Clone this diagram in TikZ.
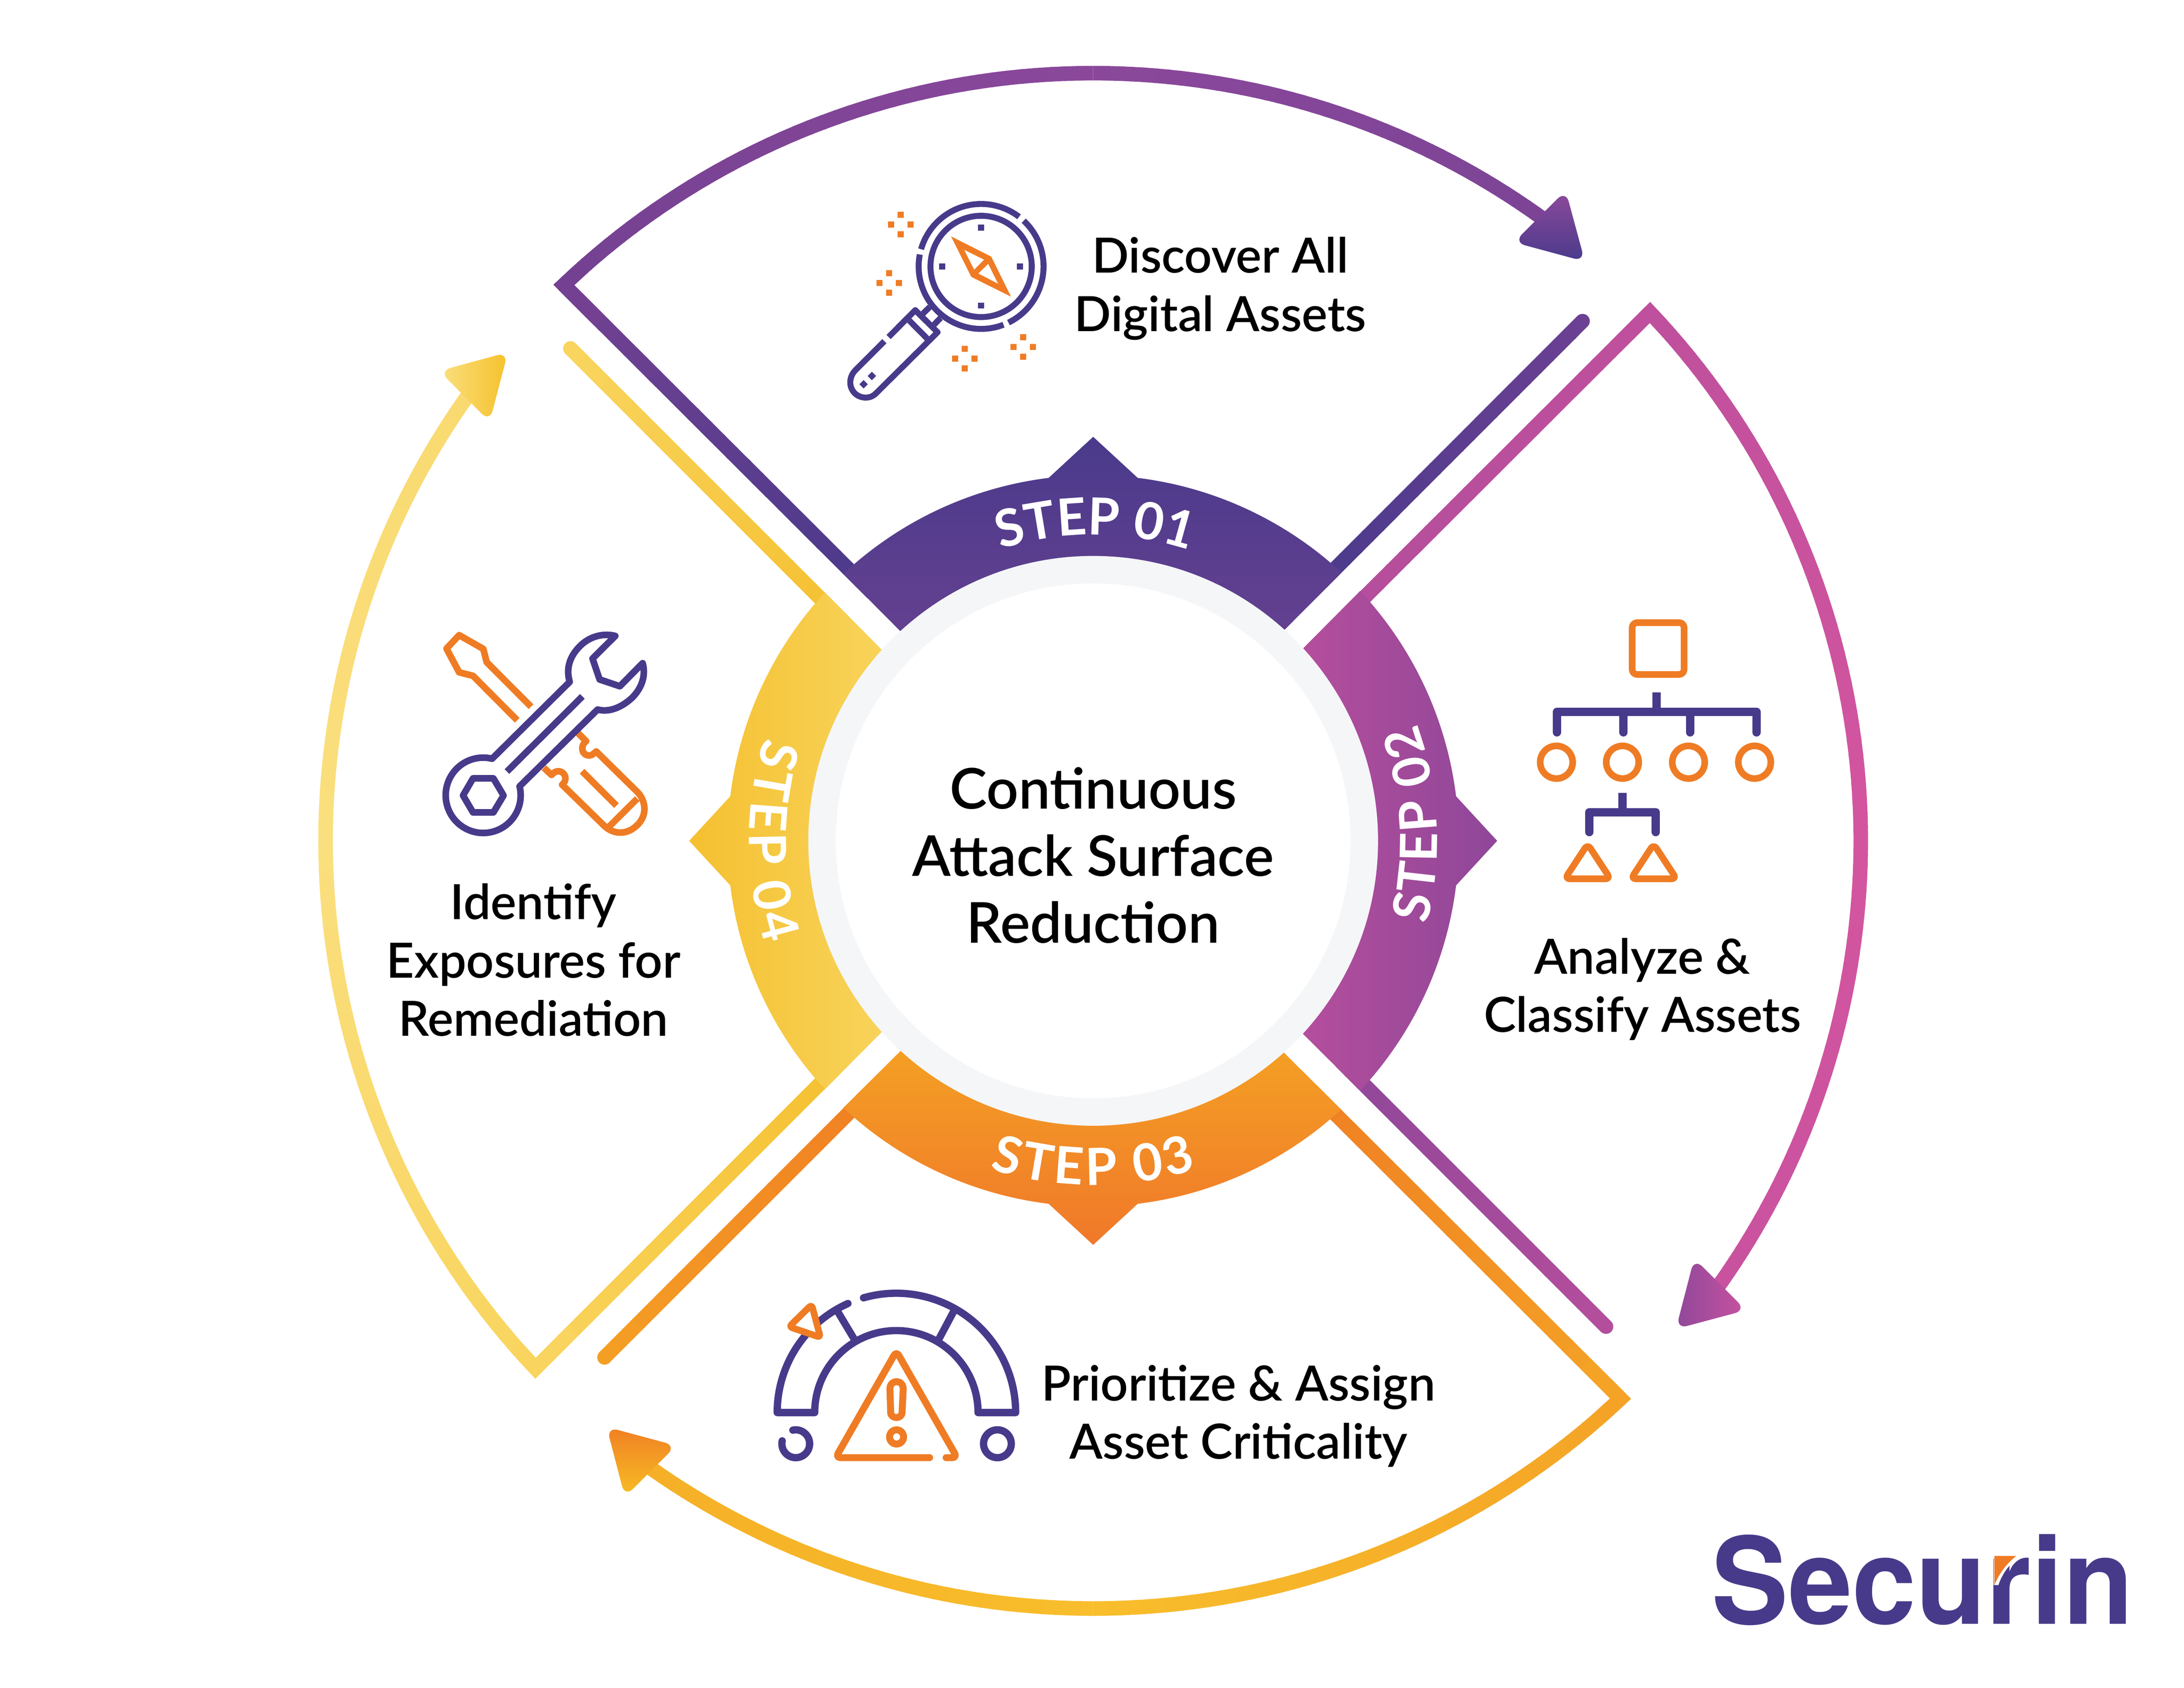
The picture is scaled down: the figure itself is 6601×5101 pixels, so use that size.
\documentclass[tikz,border=0pt]{standalone}
\usepackage{fontspec}
\usetikzlibrary{calc,decorations.text}
\setmainfont{Lato}
\newfontfamily\lblfont{Lato Semibold}
\newfontfamily\stepfont{Lato Bold}
\newfontfamily\logofont{TeX Gyre Heros Bold}
\definecolor{lv}{HTML}{483A8A}
\definecolor{og}{HTML}{EF7C24}
\definecolor{ringgray}{HTML}{F4F6F8}
% top sector
\definecolor{tA}{HTML}{744192}\definecolor{tB}{HTML}{8B489B}\definecolor{tC}{HTML}{7C4496}
\definecolor{tD}{HTML}{6C4093}\definecolor{tE}{HTML}{4A3A8B}\definecolor{tF}{HTML}{644090}\definecolor{tG}{HTML}{8E4A9B}
% right sector
\definecolor{rA}{HTML}{BF509D}\definecolor{rB}{HTML}{D4559F}\definecolor{rC}{HTML}{C8529F}
\definecolor{rD}{HTML}{B44E9C}\definecolor{rE}{HTML}{8F4799}\definecolor{rF}{HTML}{90489A}
% bottom sector
\definecolor{bA}{HTML}{F4A326}\definecolor{bB}{HTML}{F8BE2C}\definecolor{bC}{HTML}{F5AF27}
\definecolor{bD}{HTML}{F07F23}\definecolor{bE}{HTML}{F49F24}\definecolor{bF}{HTML}{F7BF25}\definecolor{bG}{HTML}{F0782A}
% left sector
\definecolor{lA}{HTML}{F9D55F}\definecolor{lB}{HTML}{FADF7E}\definecolor{lC}{HTML}{F9DA70}
\definecolor{lD}{HTML}{F5C030}\definecolor{lE}{HTML}{F8D35A}\definecolor{lF}{HTML}{F9E07F}\definecolor{lG}{HTML}{F6C12C}
\tikzset{
 iconP/.style={draw=lv,line join=round},
 iconO/.style={draw=og,line join=round},
 lbl/.style={align=center,inner sep=0pt,text=black,font=\lblfont\fontsize{14.65}{17.6}\selectfont},
 midlbl/.style={align=center,inner sep=0pt,text=black,font=\lblfont\fontsize{17}{20.3}\selectfont},
 sweep/.style={line width=4.4pt,miter limit=20},
}
\newcommand\gradarc[4]{%
 \foreach \i in {1,...,40}{%
  \pgfmathsetmacro\aa{#1+(#2-#1)*(\i-1)/40}%
  \pgfmathsetmacro\ab{#1+(#2-#1)*min((\i+0.2)/40,1)}%
  \pgfmathsetmacro\mm{100-100*(\i-0.5)/40}%
  \draw[draw={#3!\mm!#4},line width=4.4pt] (\aa:2320) arc (\aa:\ab:2320);
 }}
\newcommand\gradline[4]{%
 \foreach \i in {1,...,24}{%
  \pgfmathsetmacro\ta{(\i-1)/24}%
  \pgfmathsetmacro\tb{min((\i+0.15)/24,1)}%
  \pgfmathsetmacro\mm{100-100*(\i-0.5)/24}%
  \draw[draw={#3!\mm!#4},line width=4.4pt] ($(#1)!\ta!(#2)$) -- ($(#1)!\tb!(#2)$);
 }}
\newcommand\roundtri[7]{%
 \pgfmathsetmacro\gx{#1/3+#3/3+#5/3}%
 \pgfmathsetmacro\gy{#2/3+#4/3+#6/3}%
 \pgfmathsetmacro\ax{\gx+1.45*(#1-\gx)}\pgfmathsetmacro\ay{\gy+1.45*(#2-\gy)}%
 \pgfmathsetmacro\bx{\gx+1.45*(#3-\gx)}\pgfmathsetmacro\by{\gy+1.45*(#4-\gy)}%
 \pgfmathsetmacro\cx{\gx+1.45*(#5-\gx)}\pgfmathsetmacro\cy{\gy+1.45*(#6-\gy)}%
 \shade[#7,rounded corners=3.46pt] (\ax,\ay) -- (\bx,\by) -- (\cx,\cy) -- cycle;
}
\newcommand\sqr[2]{\fill (#1-18,#2-18) rectangle (#1+18,#2+18);}
\newcommand\sparkle[2]{\fill[og] (#1-18,#2-76) rectangle (#1+18,#2-40) (#1-75,#2-18) rectangle (#1-39,#2+18) (#1+40,#2-18) rectangle (#1+76,#2+18) (#1-18,#2+40) rectangle (#1+18,#2+76);}
\begin{document}
\begin{tikzpicture}[x=0.1pt,y=0.1pt]
\useasboundingbox (0,0) rectangle (6601,-5101);
\fill[white] (0,0) rectangle (6601,-5101);
\begin{scope}[yscale=-1]
\coordinate (ctr) at (3304,2541);
% arm free ends and inner ends
\coordinate (capT) at (4783,970.5);  \coordinate (inTR) at (3965.5,1788.5);
\coordinate (inTL) at (2638,1793);
\coordinate (inRU) at (4053,1876);   \coordinate (inRL) at (4052,3207);
\coordinate (capR) at (4854,4009);
\coordinate (inBR) at (3964,3295);   \coordinate (inBL) at (2639,3290);
\coordinate (capB) at (1827,4102);
\coordinate (inLL) at (2551,3202);   \coordinate (inLU) at (2551,1880);
\coordinate (capL) at (1724,1053);
\coordinate (cTL) at ($(ctr)+(-133.6:2320)$);
\coordinate (cR)  at ($(ctr)+(-43.5:2320)$);
\coordinate (cB)  at ($(ctr)+(46.6:2320)$);
\coordinate (cL)  at ($(ctr)+(136.6:2320)$);
% ---- top sector
\begin{scope}[shift={(ctr)}]
 \gradarc{-133.6}{-90}{tA}{tB}
 \gradarc{-90}{-53}{tB}{tC}
\end{scope}
\gradline{cTL}{inTL}{tA}{tE}
\gradline{capT}{inTR}{tD}{tE}
\fill[tD] (capT) circle (22);
\draw[tA,sweep] ($(cTL)!15pt!(inTL)$) -- (cTL) -- ($(ctr)+(-131.6:2320)$);
\roundtri{4722}{614}{4614}{722}{4762}{762}{top color=tG,bottom color=tE}
% ---- right sector
\begin{scope}[shift={(ctr)}]
 \gradarc{-43.5}{0}{rA}{rB}
 \gradarc{0}{36.8}{rB}{rC}
\end{scope}
\gradline{cR}{inRU}{rA}{rD}
\gradline{capR}{inRL}{rD}{rE}
\fill[rD] (capR) circle (22);
\draw[rA,sweep] ($(cR)!15pt!(inRU)$) -- (cR) -- ($(ctr)+(-41.5:2320)$);
\roundtri{5239}{3949}{5131}{3841}{5093}{3988}{left color=rF,right color=rC}
% ---- bottom sector
\begin{scope}[shift={(ctr)}]
 \gradarc{46.6}{90}{bA}{bB}
 \gradarc{90}{126.6}{bB}{bC}
\end{scope}
\gradline{cB}{inBR}{bA}{bD}
\gradline{capB}{inBL}{bE}{bD}
\fill[bE] (capB) circle (22);
\draw[bA,sweep] ($(cB)!15pt!(inBR)$) -- (cB) -- ($(ctr)+(48.6:2320)$);
\roundtri{1861}{4340}{2006}{4379}{1899}{4486}{top color=bD,bottom color=bF}
% ---- left sector
\begin{scope}[shift={(ctr)}]
 \gradarc{136.6}{180}{lA}{lB}
 \gradarc{180}{216.8}{lB}{lC}
\end{scope}
\gradline{cL}{inLL}{lA}{lD}
\gradline{capL}{inLU}{lA}{lD}
\fill[lA] (capL) circle (22);
\draw[lA,sweep] ($(cL)!15pt!(inLL)$) -- (cL) -- ($(ctr)+(138.6:2320)$);
\roundtri{1508}{1092}{1365}{1131}{1470}{1237}{left color=lF,right color=lG}
% ---- ring segments
\begin{scope}[shift={(ctr)}]
 \shade[top color=tE,bottom color=tF] (-133.1:1105) arc (-133.1:-97:1105) -- (-90:1221) -- (-83:1105) arc (-83:-47.2:1105) -- (-47.8:858) arc (-47.8:-132.6:858) -- cycle;
 \shade[left color=rD,right color=rE] (-43.1:1105) arc (-43.1:-7:1105) -- (0:1221) -- (7:1105) arc (7:43.1:1105) -- (42.6:858) arc (42.6:-42.5:858) -- cycle;
 \shade[top color=bE,bottom color=bG] (47.3:1105) arc (47.3:83:1105) -- (90:1221) -- (97:1105) arc (97:133.1:1105) -- (132.5:858) arc (132.5:48:858) -- cycle;
 \shade[left color=lD,right color=lE] (137.2:1105) arc (137.2:173:1105) -- (180:1221) -- (187:1105) arc (187:222.8:1105) -- (222.1:858) arc (222.1:137.9:858) -- cycle;
 \fill[ringgray] (0,0) circle (861);
 \fill[white] (0,0) circle (778);
\end{scope}
\node[midlbl] (title) at (3304,2585) {Continuous\\Attack Surface\\Reduction};
% ---- labels
\node[lbl] (lab1) at (3688,872) {Discover All\\Digital Assets};
\node[lbl] (lab2) at (4964,2989) {Analyze \&\\Classify Assets};
\node[lbl] (lab3) at (3743,4279) {Prioritize \& Assign\\Asset Criticality};
\node[lbl] (lab4) at (1612,2901) {Identify\\Exposures for\\Remediation};
% ---- magnifier icon
\begin{scope}[shift={(2400,500)},scale=0.5102]
 \begin{scope}[line width=1.8pt]
 \draw[iconP] (1108,598) circle (300);
 \draw[iconP] (-164:370) ++(1108,598) arc (-164:-52.6:370);
 \draw[iconP] (-47:370) ++(1108,598) arc (-47:64:370);
 \draw[iconP] (69:370) ++(1108,598) arc (69:191:370);
 \draw[iconP] (804,838) -- (763,878);
 \draw[iconP] (868,903) -- (829,943);
 \draw[iconP] (682,918) -- (788,1025);
 \draw[iconP] (535,1041) -- (365,1211) .. controls (300,1276) and (340,1375) .. (425,1375) .. controls (450,1375) and (470,1365) .. (485,1350) -- (850,988) -- (718,857) -- (560,1016);
 \end{scope}
 \fill[lv] (461,1222) -- (486,1247) -- (461,1272) -- (436,1247) -- cycle;
 \fill[lv] (412,1271) -- (437,1296) -- (412,1321) -- (387,1296) -- cycle;
 \begin{scope}[lv]
 \sqr{1108}{368}\sqr{877}{599}\sqr{1339}{599}\sqr{1108}{830}
 \end{scope}
 \fill[og] (930,420) -- (1168,540) -- (1285,777) -- (1050,660) -- cycle;
 \fill[white] (1008,500) -- (1125,558) -- (1067,617) -- cycle;
 \fill[white] (1150,583) -- (1208,700) -- (1092,640) -- cycle;
 \sparkle{632}{350}\sparkle{563}{696}\sparkle{1011}{1144}\sparkle{1357}{1075}
\end{scope}
% ---- hierarchy icon
\begin{scope}[shift={(4500,1800)},xscale=0.6378,yscale=0.574]
 \draw[iconO,line width=2pt,rounded corners=1.5pt] (679,142) rectangle (925,415);
 \begin{scope}[line width=2.5pt]
 \draw[iconP] (795,510) -- (795,612);
 \draw[iconP,line cap=round] (322,720) -- (322,612) -- (1268,612) -- (1268,720);
 \draw[iconP,line cap=round] (638,612) -- (638,720);
 \draw[iconP,line cap=round] (953,612) -- (953,720);
 \draw[iconP] (633,1038) -- (633,1140);
 \draw[iconP,line cap=round] (476,1245) -- (476,1140) -- (791,1140) -- (791,1245);
 \end{scope}
 \foreach \xx in {320,633,946,1259}{\draw[iconO,line width=2pt] (\xx,877) ellipse [x radius=77,y radius=86];}
 \foreach \xx in {468,781}{\draw[iconO,line width=2pt,rounded corners=1.5pt] (\xx,1308) -- (\xx+108,1491) -- (\xx-108,1491) -- cycle;}
\end{scope}
% ---- gauge icon
\begin{scope}[shift={(2250,3800)},xscale=0.574,yscale=0.4783]
 \begin{scope}[line width=2.2pt]
 \draw[iconP,line cap=round] (545,291) arc [start angle=246,end angle=180,x radius=628,y radius=754] -- (370,980) arc [start angle=180,end angle=360,x radius=430,y radius=518] -- (1428,980) arc [start angle=360,end angle=254,x radius=628,y radius=754];
 \draw[iconP] (490,340) -- (580,520);
 \draw[iconP] (1102,340) -- (1022,520);
 \draw[iconP,line cap=round] (1332,1177) ellipse [x radius=73,y radius=88];
 \draw[iconP,line cap=round] (255,1091) arc [start angle=258,end angle=552,x radius=73,y radius=88];
 \end{scope}
 \draw[iconO,fill=white,line width=2pt,rounded corners=1pt] (354,298) -- (235,438) -- (400,505) -- cycle;
 \draw[iconO,line width=2.1pt,line cap=round,rounded corners=1.5pt] (975,1265) -- (480,1265) -- (800,592) -- (1120,1265) -- (1062,1265);
 \draw[iconO,line width=2.1pt] (766,830) .. controls (766,770) and (836,770) .. (836,830) -- (830,980) .. controls (828,1022) and (772,1022) .. (770,980) -- cycle;
 \draw[iconO,line width=2.1pt] (801,1134) ellipse [x radius=37,y radius=45];
\end{scope}
% ---- tools icon
\begin{scope}[shift={(1250,1850)},xscale=0.5102,yscale=0.4783,line width=2pt]
 \draw[iconO] (696,597) -- (433,316) -- (413,232) -- (270,145) -- (195,230) -- (270,380) -- (352,402) -- (614,683);
 \draw[iconO] (972,762) -- (1022,815) .. controls (985,845) and (995,905) .. (1040,905) .. controls (1060,905) and (1070,890) .. (1082,880) -- (1325,1135) .. controls (1380,1195) and (1385,1290) .. (1320,1350) .. controls (1260,1410) and (1180,1405) .. (1125,1345) -- (880,1090) .. controls (915,1060) and (900,1005) .. (855,1005) .. controls (840,1005) and (830,1015) .. (817,1028) -- (772,983);
 \draw[iconO] (1325,1178) -- (1160,1353);
 \draw[iconO] (998,1005) -- (1202,1222);
 \draw[iconP] (628,1100.6) arc [start angle=-13.7,end angle=283.8,x radius=222,y radius=238] -- (925,440) .. controls (905,370) and (915,290) .. (985,215) .. controls (1040,155) and (1120,130) .. (1195,150) -- (1060,293) -- (1102,425) -- (1222,468) -- (1357,322) .. controls (1375,390) and (1360,470) .. (1295,540) .. controls (1235,600) and (1160,635) .. (1090,615) -- cycle;
 \draw[iconP] (1000,532) -- (553,1007);
 \draw[iconP] (352,1050) -- (473,1050) -- (533,1158) -- (473,1265) -- (352,1265) -- (293,1158) -- cycle;
\end{scope}
% ---- logo
\node[anchor=base west,inner sep=0pt,text=lv,font=\logofont\fontsize{36.4}{36.4}\selectfont] (logo) at (5171,4908) {\scalebox{0.955}[1]{Securin}};
\fill[white] (6026,4700) -- (6108,4700) .. controls (6068,4728) and (6048,4765) .. (6040,4790) -- (6026,4790) -- cycle;
\fill[og] (6028,4702) -- (6094,4702) .. controls (6058,4730) and (6038,4765) .. (6028,4790) -- cycle;
\end{scope}
% ---- step labels along the ring (upright coordinates)
\begin{scope}[shift={(3304,-2541)}]
 \path[decorate,decoration={text along path,text align=fit to path,text={|\stepfont\fontsize{15.5}{15.5}\selectfont\color{white}|STEP 01}}] (107.6:925) arc (107.6:72.4:925);
 \path[decorate,decoration={text along path,text align=fit to path,text={|\stepfont\fontsize{15.5}{15.5}\selectfont\color{white}|STEP 02}}] (-14:1040) arc (-14:20:1040);
 \path[decorate,decoration={text along path,text align=fit to path,text={|\stepfont\fontsize{15.5}{15.5}\selectfont\color{white}|STEP 03}}] (252.5:1040) arc (252.5:287.5:1040);
 \path[decorate,decoration={text along path,text align=fit to path,text={|\stepfont\fontsize{15.5}{15.5}\selectfont\color{white}|STEP 04}}] (162.5:1040) arc (162.5:197.5:1040);
\end{scope}
\end{tikzpicture}
\end{document}
